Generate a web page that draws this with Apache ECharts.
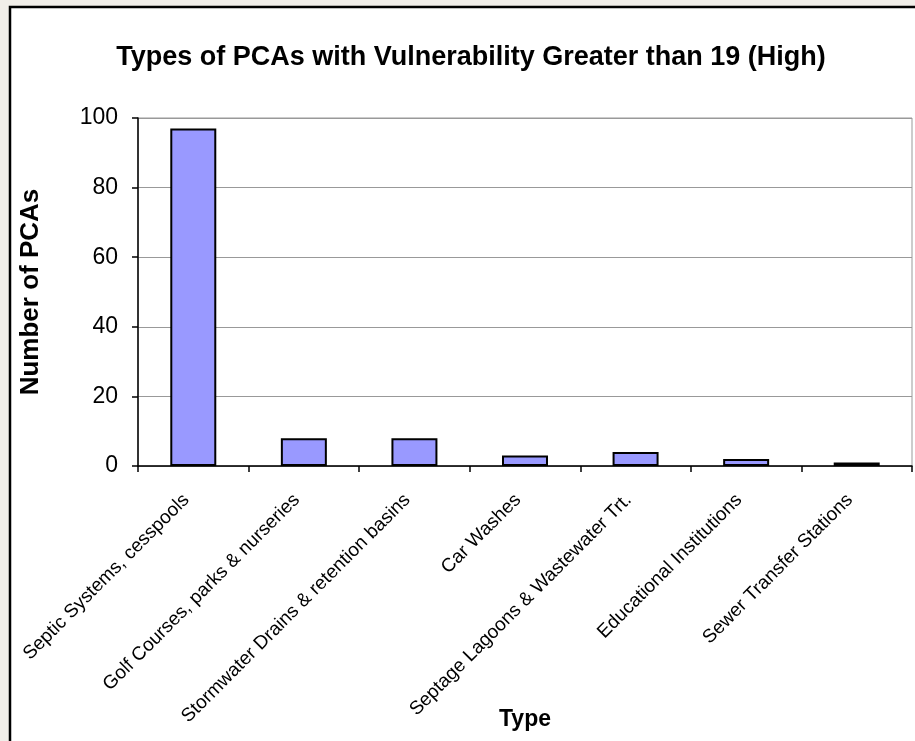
<!DOCTYPE html>
<html>
<head>
<meta charset="utf-8">
<script src="https://cdn.jsdelivr.net/npm/echarts@6/dist/echarts.min.js"></script>
<style>
html,body{margin:0;padding:0;background:#f1eee9;}
#chart{width:915px;height:741px;}
</style>
</head>
<body>
<div id="chart"></div>
<script>
const titleText = "Types of PCAs with Vulnerability Greater than 19 (High)";
const categories = [
  "Septic Systems, cesspools",
  "Golf Courses, parks & nurseries",
  "Stormwater Drains & retention basins",
  "Car Washes",
  "Septage Lagoons & Wastewater Trt.",
  "Educational Institutions",
  "Sewer Transfer Stations"
];
const values = [97, 8, 8, 3, 4, 2, 1];
const yTicks = [0, 20, 40, 60, 80, 100];
const yName = "Number of PCAs";
const xName = "Type";

const chart = echarts.init(document.getElementById('chart'));
const FONT = "'Liberation Sans', Arial, sans-serif";
chart.setOption({
  backgroundColor: '#f1eee9',
  animation: false,
  graphic: [{
    type: 'rect', z: -10,
    shape: {x: 10, y: 7, width: 930, height: 770},
    style: {fill: '#ffffff', stroke: '#000000', lineWidth: 2.5}
  }],
  title: {
    text: titleText,
    left: 466, top: 39, textAlign: 'center',
    textStyle: {fontFamily: FONT, fontSize: 27, fontWeight: 'bold', color: '#000'}
  },
  grid: {
    left: 138, right: 3, top: 118, bottom: 275,
    containLabel: false, outerBoundsMode: 'none',
    show: true, borderColor: '#999999', borderWidth: 1, backgroundColor: 'transparent'
  },
  xAxis: {
    type: 'category',
    data: categories,
    name: xName,
    nameLocation: 'middle',
    nameGap: 242,
    nameMoveOverlap: false,
    nameTextStyle: {fontFamily: FONT, fontSize: 23, fontWeight: 'bold', color: '#000', verticalAlign: 'top'},
    axisLine: {lineStyle: {color: '#000', width: 1.5}},
    axisTick: {show: true, alignWithLabel: false, length: 6, lineStyle: {color: '#000', width: 1.5}},
    axisLabel: {rotate: 45, interval: 0, margin: 24, padding: [0, 10, 0, 0],
      fontFamily: FONT, fontSize: 19, color: '#000'},
    splitLine: {show: false}
  },
  yAxis: {
    type: 'value',
    min: 0, max: 100, interval: 20,
    name: yName,
    nameLocation: 'middle',
    nameGap: 94,
    nameTextStyle: {fontFamily: FONT, fontSize: 26, fontWeight: 'bold', color: '#000'},
    axisLine: {show: true, lineStyle: {color: '#000', width: 1.5}},
    axisTick: {show: true, length: 6, lineStyle: {color: '#000', width: 1.5}},
    axisLabel: {margin: 20, fontFamily: FONT, fontSize: 23, color: '#000',
      formatter: v => yTicks.includes(v) ? String(v) : ''},
    splitLine: {show: true, lineStyle: {color: '#999999', width: 1}}
  },
  series: [{
    type: 'bar',
    data: values,
    barWidth: '41.6%',
    itemStyle: {color: '#9999ff', borderColor: '#000', borderWidth: 2}
  }]
});
</script>
</body>
</html>
